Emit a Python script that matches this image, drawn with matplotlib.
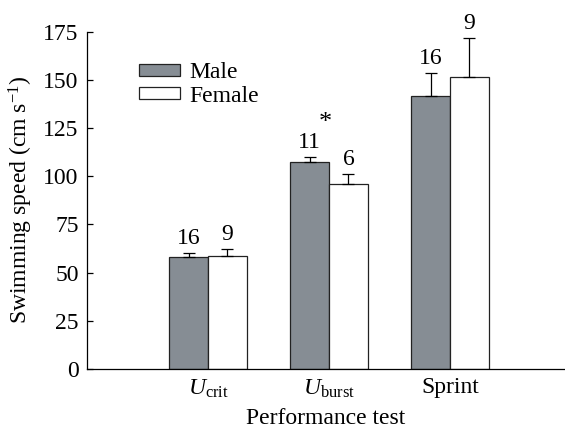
import matplotlib
matplotlib.use("Agg")
import matplotlib.pyplot as plt
import numpy as np

plt.rcParams["font.family"] = ["Liberation Serif", "DejaVu Serif"]
plt.rcParams["mathtext.fontset"] = "custom"
plt.rcParams["mathtext.rm"] = "Liberation Serif"
plt.rcParams["mathtext.it"] = "Liberation Serif:italic"
plt.rcParams["mathtext.bf"] = "Liberation Serif:bold"

# Swimming performance by sex
tests = [r"$U_{\mathrm{crit}}$", r"$U_{\mathrm{burst}}$", "Sprint"]
male_mean = [58.3, 107.3, 141.6]
male_err = [1.8, 2.6, 12.0]
female_mean = [58.5, 95.9, 151.4]
female_err = [3.8, 5.0, 20.2]
male_n = ["16", "11", "16"]
female_n = ["9", "6", "9"]
sig_marks = ["", "*", ""]

FS = 17
fig = plt.figure(figsize=(5.65, 4.28), dpi=100)
ax = fig.add_axes([0.154, 0.138, 0.846, 0.788])

x = np.arange(len(tests))
w = 0.32
male_col = "#868d94"

ax.bar(x - w / 2, male_mean, w, color=male_col, edgecolor="#222222", linewidth=0.9, label="Male", zorder=2)
ax.bar(x + w / 2, female_mean, w, color="white", edgecolor="#222222", linewidth=0.9, label="Female", zorder=2)

err_kw = dict(fmt="none", ecolor="black", elinewidth=0.9, capsize=4, capthick=0.9, zorder=3)
ax.errorbar(x - w / 2, male_mean, yerr=[np.zeros(3), male_err], **err_kw)
ax.errorbar(x + w / 2, female_mean, yerr=[np.zeros(3), female_err], **err_kw)

for i in range(len(tests)):
    ax.annotate(male_n[i], (x[i] - w / 2, male_mean[i] + male_err[i]), xytext=(0, 3),
                textcoords="offset points", ha="center", va="bottom", fontsize=FS)
    ax.annotate(female_n[i], (x[i] + w / 2, female_mean[i] + female_err[i]), xytext=(0, 3),
                textcoords="offset points", ha="center", va="bottom", fontsize=FS)
    if sig_marks[i]:
        top = max(male_mean[i] + male_err[i], female_mean[i] + female_err[i])
        ax.annotate(sig_marks[i], (x[i], top), xytext=(-3, 17),
                    textcoords="offset points", ha="center", va="bottom", fontsize=FS + 2)

ax.set_xlim(-1.0, 2.95)
ax.set_ylim(0, 175)
ax.set_yticks(np.arange(0, 176, 25))
ax.set_xticks(x)
ax.set_xticklabels(tests, fontsize=FS)
ax.tick_params(axis="y", direction="in", length=4, width=0.9, labelsize=FS, pad=6)
ax.tick_params(axis="x", length=0, labelsize=FS, pad=6)

for s in ["top", "right"]:
    ax.spines[s].set_visible(False)
for s in ["left", "bottom"]:
    ax.spines[s].set_linewidth(0.9)

ax.set_ylabel(r"Swimming speed (cm s$^{\mathregular{-1}}$)", fontsize=FS, labelpad=6)
ax.set_xlabel("Performance test", fontsize=FS, labelpad=6)

ax.legend(loc="upper left", bbox_to_anchor=(0.108, 0.91), frameon=False, fontsize=FS,
          handlelength=1.75, handleheight=0.4, handletextpad=0.4, labelspacing=0.12,
          borderaxespad=0, borderpad=0)

fig.savefig("out.png", dpi=100)
